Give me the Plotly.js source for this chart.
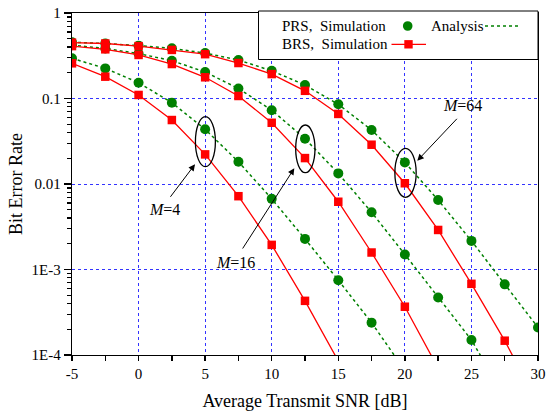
<!DOCTYPE html>
<html><head><meta charset="utf-8">
<script src="https://cdn.plot.ly/plotly-3.0.1.min.js"></script>
<style>html,body{margin:0;padding:0;background:#fff}</style>
</head><body><div id="chart" style="width:546px;height:413px"></div>
<script>
// SNR grid (dB)
const snr = [-5,-2.5,0,2.5,5,7.5,10,12.5,15,17.5,20,22.5,25,27.5,30];
// PRS simulation (green circles)
const prsSimM4  = [0.295,0.225,0.153,0.0893,0.0436,0.0182,0.0067,0.00228,0.00075,0.000239];
const prsSimM16 = [0.42,0.385,0.335,0.277,0.204,0.131,0.073,0.0339,0.0133,0.00467,0.0015,0.00047,0.00015];
const prsSimM64 = [0.455,0.44,0.415,0.386,0.34,0.282,0.211,0.144,0.0855,0.0428,0.0179,0.0065,0.00216,0.00067,0.00021];
// Analysis (green dashed), continues below the axis
const anaM4  = [0.295,0.225,0.153,0.0893,0.0436,0.0182,0.0067,0.00228,0.00075,0.000239,0.000066];
const anaM16 = [0.42,0.385,0.335,0.277,0.204,0.131,0.073,0.0339,0.0133,0.00467,0.0015,0.00047,0.00015,0.000032];
const anaM64 = [0.455,0.44,0.415,0.386,0.34,0.282,0.211,0.144,0.0855,0.0428,0.0179,0.0065,0.00216,0.00067,0.00021];
// BRS simulation (red squares)
const brsM4  = [0.258,0.18,0.11,0.056,0.0222,0.0072,0.00194,0.00043,0.000085];
const brsM16 = [0.41,0.376,0.323,0.253,0.177,0.107,0.052,0.0201,0.0062,0.00158,0.000367,0.00007];
const brsM64 = [0.45,0.44,0.41,0.37,0.33,0.26,0.193,0.123,0.066,0.0288,0.0102,0.0029,0.00068,0.000147,0.000027];
// ticks
const xTicks = [-5,0,5,10,15,20,25,30];
const xTickText = ['-5','0','5','10','15','20','25','30'];
const yTicks = [1,0.1,0.01,0.001,0.0001];
const yTickText = ['1','0.1','0.01','1E-3','1E-4'];

const GREEN = '#008000', RED = '#ff0000';
const traces = [];
[anaM4, anaM16, anaM64].forEach(v => traces.push({
  x: snr.slice(0, v.length), y: v, mode: 'lines', type: 'scatter',
  line: {color: GREEN, width: 1.5, dash: '3px,3px'}, hoverinfo: 'skip'
}));
[prsSimM4, prsSimM16, prsSimM64].forEach(v => traces.push({
  x: snr.slice(0, v.length), y: v, mode: 'markers', type: 'scatter',
  marker: {color: GREEN, size: 10, symbol: 'circle'}
}));
[brsM4, brsM16, brsM64].forEach(v => traces.push({
  x: snr.slice(0, v.length), y: v, mode: 'lines+markers', type: 'scatter',
  line: {color: RED, width: 1.3}, marker: {color: RED, size: 8.5, symbol: 'square'}
}));

// pixel helpers for decorations (plot area: l=72, t=13, w=466, h=342)
const L = 72, T = 13, W = 466, H = 342;
const px = x => (x - L) / W;
const py = y => (T + H - y) / H;

const shapes = [
  // legend box
  {type:'rect', xref:'paper', yref:'paper', x0:px(258.5), x1:1, y0:py(59.5), y1:py(11), line:{color:'#000', width:1}, fillcolor:'#fff', layer:'above'},
  {type:'circle', xref:'paper', yref:'paper', xsizemode:'pixel', ysizemode:'pixel', xanchor:px(407.7), yanchor:py(26), x0:-4.8, x1:4.8, y0:-4.8, y1:4.8, fillcolor:GREEN, line:{width:0}, layer:'above'},
  {type:'line', xref:'paper', yref:'paper', x0:px(485), x1:px(519.5), y0:py(26), y1:py(26), line:{color:GREEN, width:1.5, dash:'3px,3px'}, layer:'above'},
  {type:'line', xref:'paper', yref:'paper', x0:px(391.5), x1:px(426), y0:py(44.3), y1:py(44.3), line:{color:RED, width:1.3}, layer:'above'},
  {type:'rect', xref:'paper', yref:'paper', xsizemode:'pixel', ysizemode:'pixel', xanchor:px(408.5), yanchor:py(44.3), x0:-4.2, x1:4.2, y0:-4.2, y1:4.2, fillcolor:RED, line:{width:0}, layer:'above'},
  // ellipses
  {type:'circle', xref:'x', yref:'paper', x0:4.27, x1:5.77, y0:py(166.7), y1:py(116.7), line:{color:'#000', width:1.3}},
  {type:'circle', xref:'x', yref:'paper', x0:11.8, x1:13.25, y0:py(172.7), y1:py(125), line:{color:'#000', width:1.3}},
  {type:'circle', xref:'x', yref:'paper', x0:19.25, x1:20.85, y0:py(197.3), y1:py(148.3), line:{color:'#000', width:1.3}}
];

const F = 'Liberation Serif, Times New Roman, serif';
const ann = (text, x, y, xa, size) => ({text, xref:'paper', yref:'paper', x:px(x), y:py(y), xanchor:xa||'left', yanchor:'middle', showarrow:false, font:{family:F, size:size||15, color:'#000'}});
const arrow = (hx, hy, tx, ty) => ({text:'', xref:'paper', yref:'paper', x:px(hx), y:py(hy), ax:tx-hx, ay:ty-hy, showarrow:true, arrowhead:2, arrowsize:1.3, arrowwidth:1, arrowcolor:'#000', standoff:0, startstandoff:0});

const annotations = [
  ann('PRS,\u00a0 Simulation', 280, 26),
  ann('Analysis', 428.5, 26),
  ann('BRS,\u00a0 Simulation', 280, 44.3),
  arrow(195, 164.3, 169.3, 198.3),
  arrow(294.3, 168.3, 241.7, 250),
  arrow(417.3, 160.7, 458.3, 117.3),
  ann('<i>M</i>=4', 164, 209, 'center', 16),
  ann('<i>M</i>=16', 235, 262.7, 'center', 16),
  ann('<i>M</i>=64', 462.7, 105, 'center', 16)
];

const axisCommon = {
  showline:true, mirror:true, linecolor:'#000', linewidth:1.3,
  showgrid:true, gridcolor:'#3333ff', griddash:'dot', gridwidth:1,
  zeroline:false, ticks:'outside', tickcolor:'#000', tickwidth:1.3,
  tickfont:{family:F, size:15, color:'#000'}
};

const layout = {
  width:546, height:413,
  margin:{l:L, r:546-L-W, t:T, b:413-T-H},
  paper_bgcolor:'#fff', plot_bgcolor:'#fff',
  showlegend:false,
  font:{family:F, color:'#000'},
  xaxis: Object.assign({}, axisCommon, {
    range:[-5,30], tickmode:'array', tickvals:xTicks, ticktext:xTickText, ticklen:5, ticklabelstandoff:0,
    minor:{dtick:2.5, tick0:-5, ticks:'outside', ticklen:5, tickwidth:1.3, tickcolor:'#000', showgrid:false},
    title:{text:'Average Transmit SNR [dB]', font:{family:F, size:18, color:'#000'}, standoff:13}
  }),
  yaxis: Object.assign({}, axisCommon, {
    type:'log', range:[-4,0], tickmode:'array', tickvals:yTicks, ticktext:yTickText, ticklen:7,
    minor:{dtick:'D1', ticks:'outside', ticklen:4, tickwidth:1.3, tickcolor:'#000', showgrid:false},
    title:{text:'Bit Error Rate', font:{family:F, size:18, color:'#000'}, standoff:4}
  }),
  shapes, annotations
};

Plotly.newPlot('chart', traces, layout, {staticPlot:true, displayModeBar:false});
</script></body></html>
